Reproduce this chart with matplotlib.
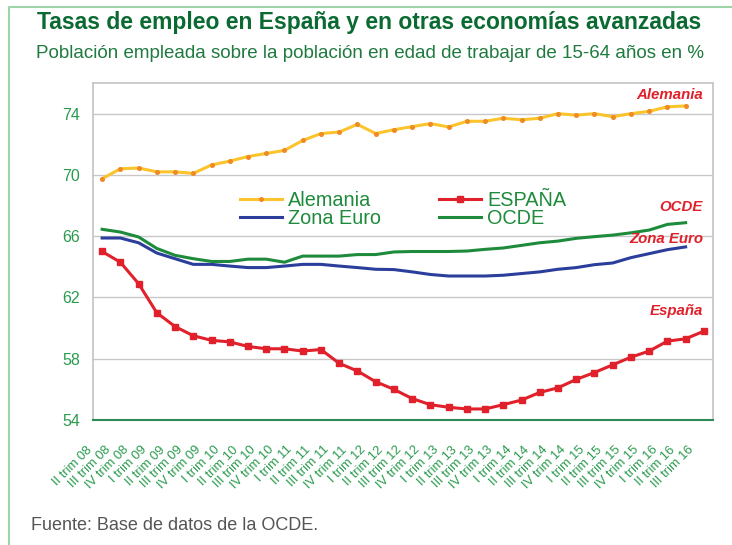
import matplotlib
matplotlib.use("Agg")
import matplotlib.pyplot as plt
from matplotlib.lines import Line2D
from matplotlib.transforms import ScaledTranslation

plt.rcParams['font.family'] = ['Liberation Sans', 'DejaVu Sans']

quarters = [
    "II trim 08", "III trim 08", "IV trim 08",
    "I trim 09", "II trim 09", "III trim 09", "IV trim 09",
    "I trim 10", "II trim 10", "III trim 10", "IV trim 10",
    "I trim 11", "II trim 11", "III trim 11", "IV trim 11",
    "I trim 12", "II trim 12", "III trim 12", "IV trim 12",
    "I trim 13", "II trim 13", "III trim 13", "IV trim 13",
    "I trim 14", "II trim 14", "III trim 14", "IV trim 14",
    "I trim 15", "II trim 15", "III trim 15", "IV trim 15",
    "I trim 16", "II trim 16", "III trim 16",
]

espana = [65.0, 64.3, 62.9, 61.0, 60.1, 59.5, 59.2, 59.1, 58.8, 58.65,
          58.65, 58.5, 58.6, 57.7, 57.2, 56.5, 56.0, 55.4, 55.0, 54.83,
          54.72, 54.72, 55.0, 55.3, 55.8, 56.1, 56.65, 57.1, 57.6, 58.1,
          58.5, 59.15, 59.3, 59.8]

alemania = [69.75, 70.4, 70.45, 70.2, 70.2, 70.1, 70.65, 70.9, 71.2, 71.4,
            71.6, 72.25, 72.7, 72.8, 73.3, 72.7, 72.95, 73.15, 73.35, 73.13,
            73.5, 73.5, 73.7, 73.6, 73.7, 74.0, 73.9, 74.0, 73.8, 74.0,
            74.15, 74.45, 74.5]

ocde = [66.45, 66.27, 65.95, 65.2, 64.75, 64.53, 64.35, 64.35, 64.5, 64.5,
        64.3, 64.7, 64.7, 64.7, 64.8, 64.8, 64.97, 65.0, 65.0, 65.0,
        65.03, 65.14, 65.23, 65.4, 65.57, 65.68, 65.86, 65.97, 66.07, 66.22,
        66.4, 66.77, 66.88]

zona_euro = [65.88, 65.88, 65.57, 64.9, 64.53, 64.16, 64.16, 64.05, 63.95, 63.95,
             64.05, 64.16, 64.16, 64.05, 63.95, 63.84, 63.82, 63.67, 63.5, 63.4,
             63.4, 63.4, 63.45, 63.56, 63.67, 63.84, 63.95, 64.14, 64.25, 64.6,
             64.86, 65.12, 65.3]

yticks = [54, 58, 62, 66, 70, 74]

c_yellow = "#fcc42c"
c_orange = "#f08a24"
c_red = "#e0202a"
c_blue = "#2b3e9c"
c_green = "#1e8b3c"
c_text = "#2a9a4e"

fig = plt.figure(figsize=(7.32, 5.45), dpi=100)
ax = fig.add_axes([93/732, 125/545, 620/732, 337/545])

ax.plot(range(len(alemania)), alemania, '-', color=c_yellow, lw=2.2,
        marker='o', ms=2.6, mfc=c_orange, mec=c_orange, zorder=3)
ax.plot(range(len(zona_euro)), zona_euro, '-', color=c_blue, lw=2.2, zorder=3)
ax.plot(range(len(ocde)), ocde, '-', color=c_green, lw=2.2, zorder=3)
ax.plot(range(len(espana)), espana, '-', color=c_red, lw=2.2,
        marker='s', ms=4.5, zorder=4)

ax.set_xlim(-0.5, len(quarters) - 0.5)
ax.set_ylim(54, 76)
ax.set_yticks(yticks)
ax.set_xticks(range(len(quarters)))
ax.set_xticklabels(quarters, rotation=45, rotation_mode='anchor',
                   ha='right', va='center', fontsize=9.3, color=c_text)
ax.tick_params(axis='x', length=0, pad=0)
ax.tick_params(axis='y', length=0, pad=9.5, labelsize=11.5, labelcolor=c_text)
off = ScaledTranslation(-12/100, -28/100, fig.dpi_scale_trans)
for lbl in ax.get_xticklabels():
    lbl.set_transform(lbl.get_transform() + off)

ax.grid(axis='y', color="#c8c8c8", lw=1)
ax.set_axisbelow(True)
for s in ['top', 'right', 'left']:
    ax.spines[s].set_color("#c4c4c4")
    ax.spines[s].set_linewidth(1.2)
ax.spines['bottom'].set_color("#2e8b57")
ax.spines['bottom'].set_linewidth(1.5)

handles = [
    Line2D([], [], color=c_yellow, lw=2.2, marker='o', ms=2.6, mfc=c_orange, mec=c_orange),
    Line2D([], [], color=c_blue, lw=2.2),
    Line2D([], [], color=c_red, lw=2.2, marker='s', ms=4.5),
    Line2D([], [], color=c_green, lw=2.2),
]
labels = ["Alemania", "Zona Euro", "ESPAÑA", "OCDE"]
leg = fig.legend(handles, labels, ncol=2, loc='upper left',
                 bbox_to_anchor=(240/732, 1 - 191/545), frameon=False,
                 fontsize=14.3, handlelength=2.1, handletextpad=0.3,
                 columnspacing=2.95, labelspacing=-0.05, borderpad=0,
                 borderaxespad=0)
for t in leg.get_texts():
    t.set_color(c_green)

side = dict(color=c_red, fontsize=10.8, fontweight='bold', fontstyle='italic',
            ha='right', va='center', transform=ax.transAxes)
ax.text(0.984, 0.964, "Alemania", **side)
ax.text(0.984, 0.632, "OCDE", **side)
ax.text(0.984, 0.537, "Zona Euro", **side)
ax.text(0.984, 0.323, "España", **side)

fig.text(369/732, 1 - 22/545, "Tasas de empleo en España y en otras economías avanzadas",
         ha='center', va='center', fontsize=16.5, fontweight='bold',
         color="#0b6a32")
fig.text(370/732, 1 - 54/545,
         "Población empleada sobre la población en edad de trabajar de 15-64 años en %",
         ha='center', va='center', fontsize=13.5, color="#1f7a3f")
fig.text(31/732, 1 - 526/545, "Fuente: Base de datos de la OCDE.",
         ha='left', va='center', fontsize=13, color="#555555")

# light green frame (top and left only)
fig.add_artist(Line2D([9/732, 9/732, 1.0], [0.0, 1 - 7/545, 1 - 7/545],
                      transform=fig.transFigure, color="#9fd4a8", lw=1.5))

fig.savefig("out.png", dpi=100)
